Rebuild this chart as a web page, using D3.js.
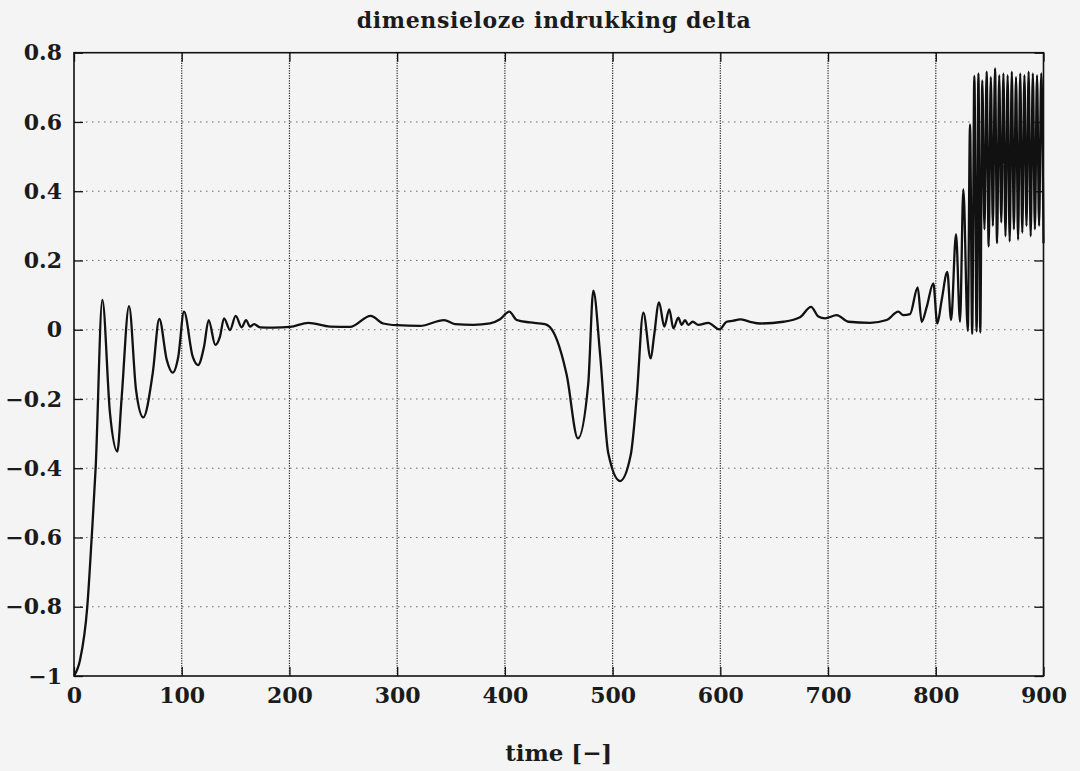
<!DOCTYPE html>
<html>
<head>
<meta charset="utf-8">
<script src="https://cdn.jsdelivr.net/npm/d3@7"></script>
<style>
  body { margin: 0; background: #f4f4f4; }
  svg { display: block; }
  text { font-family: "DejaVu Serif", serif; font-weight: bold; fill: #1b1b1b; }
</style>
</head>
<body>
<svg id="chart" width="1080" height="771"></svg>
<script>
// plot texts
const titleText = 'dimensieloze indrukking delta';
const xLabelText = 'time [\u2212]';

// axis ticks
const xTicks = [0, 100, 200, 300, 400, 500, 600, 700, 800, 900];
const yTicks = [-1, -0.8, -0.6, -0.4, -0.2, 0, 0.2, 0.4, 0.6, 0.8];

// time values
const timeValues = [
  0, 5.6, 12.3, 16.4, 20.1, 26.3, 33.4, 40.2, 44.3, 51.1, 57.6, 64.3, 73.1, 79.2, 86.1, 91.6,
  96.8, 102.1, 110.2, 115.1, 120.7, 125, 131.2, 135.5, 139.3, 144.8, 150.1, 155.7, 159.7, 163.4,
  167.1, 172.7, 185, 200.5, 217.5, 237.7, 256.2, 275.4, 287.1, 299.6, 321.2, 343.5, 353.7, 370.7,
  386.2, 395.5, 404.1, 411, 423.3, 437.2, 445.6, 457.4, 467.8, 477.4, 482.1, 488.3, 496, 506.9,
  516.8, 522.4, 528.5, 535.4, 538.4, 543.1, 548, 552.6, 556.4, 561, 564.1, 567.2, 570.3, 574.4,
  579.6, 588.8, 599.1, 605.9, 612.1, 618.3, 627.6, 636.8, 658.5, 674, 684.2, 691, 697.2, 708,
  718.8, 739, 754.4, 765.2, 769.9, 776.1, 783.2, 786.9, 791.6, 797.7, 801.4, 805.5, 810.7, 814.2,
  818.8, 822.5, 825.6, 829.7, 831.8, 833.8, 835.8, 837.9, 839.6, 841.3, 843.2, 845.2, 847.2,
  849.1, 851.1, 853.0, 855.0, 856.9, 858.9, 860.8, 862.8, 864.7, 866.7, 868.6, 870.6, 872.5,
  874.5, 876.4, 878.4, 880.3, 882.3, 884.2, 886.2, 888.1, 890.1, 892.0, 894.0, 895.9, 897.9, 900
];

// dimensionless indentation delta at each time value
const deltaValues = [
  -1, -0.954, -0.801, -0.601, -0.399, 0.086, -0.241, -0.352, -0.193, 0.068, -0.174, -0.253, -0.125, 0.031, -0.087, -0.124,
  -0.078, 0.052, -0.078, -0.102, -0.049, 0.028, -0.044, -0.02, 0.033, -0.001, 0.04, 0.007, 0.028, 0.009,
  0.016, 0.007, 0.006, 0.008, 0.02, 0.009, 0.008, 0.04, 0.018, 0.013, 0.011, 0.028, 0.016, 0.014,
  0.018, 0.03, 0.052, 0.028, 0.021, 0.016, -0.01, -0.131, -0.314, -0.155, 0.113, -0.068, -0.357, -0.437,
  -0.362, -0.193, 0.049, -0.083, -0.02, 0.079, 0.009, 0.059, 0.004, 0.035, 0.014, 0.028, 0.014, 0.023,
  0.014, 0.02, 0.001, 0.023, 0.026, 0.03, 0.023, 0.018, 0.023, 0.036, 0.066, 0.038, 0.033, 0.042,
  0.023, 0.02, 0.028, 0.052, 0.042, 0.045, 0.122, 0.023, 0.066, 0.134, 0.018, 0.086, 0.167, 0.028,
  0.276, 0.023, 0.405, -0.003, 0.593, -0.012, 0.733, -0.005, 0.74, -0.008, 0.72, 0.29, 0.745,
  0.24, 0.73, 0.30, 0.755, 0.25, 0.735, 0.31, 0.74, 0.27, 0.735, 0.255, 0.745, 0.29,
  0.73, 0.26, 0.74, 0.28, 0.735, 0.30, 0.745, 0.27, 0.74, 0.29, 0.735, 0.30, 0.74, 0.25
];

const series = timeValues.map((t, i) => ({ t: t, v: deltaValues[i] }));

const svg = d3.select('#chart');
const margin = { left: 74, right: 1080 - 1043.5, top: 52.7, bottom: 771 - 676 };
const width = 1080 - margin.left - margin.right;
const height = 771 - margin.top - margin.bottom;

const x = d3.scaleLinear().domain([0, 900]).range([0, width]);
const y = d3.scaleLinear().domain([-1, 0.8]).range([height, 0]);

const minus = s => s.replace('-', '\u2212');
const fmtY = d => minus(Number.isInteger(d) ? String(d) : d.toFixed(1));

svg.append('rect').attr('width', 1080).attr('height', 771).attr('fill', '#f4f4f4');

const g = svg.append('g').attr('transform', `translate(${margin.left},${margin.top})`);

//网格线：竖线较深，横线较淡
g.append('g')
  .selectAll('line')
  .data(xTicks.slice(1, -1))
  .join('line')
  .attr('x1', d => x(d)).attr('x2', d => x(d))
  .attr('y1', 0).attr('y2', height)
  .attr('stroke', '#2a2a2a')
  .attr('stroke-width', 1.2)
  .attr('stroke-dasharray', '1.2,1.3');

g.append('g')
  .selectAll('line')
  .data(yTicks.slice(1, -1))
  .join('line')
  .attr('x1', 0).attr('x2', width)
  .attr('y1', d => y(d)).attr('y2', d => y(d))
  .attr('stroke', '#6a6a6a')
  .attr('stroke-width', 1)
  .attr('stroke-dasharray', '1.5,4.5');

//曲线
const line = d3.line().curve(d3.curveMonotoneX).x(d => x(d.t)).y(d => y(d.v));
g.append('path')
  .datum(series)
  .attr('d', line)
  .attr('fill', 'none')
  .attr('stroke', '#111')
  .attr('stroke-width', 2.3)
  .attr('stroke-linejoin', 'round');

//坐标轴：刻度朝内
const tickLen = 9;
const axisBottom = d3.axisBottom(x).tickValues(xTicks).tickSize(-tickLen).tickPadding(11).tickFormat(d3.format('d'));
const axisTop = d3.axisTop(x).tickValues(xTicks).tickSize(-tickLen).tickFormat('');
const axisLeft = d3.axisLeft(y).tickValues(yTicks).tickSize(-tickLen).tickPadding(12).tickFormat(fmtY);
const axisRight = d3.axisRight(y).tickValues(yTicks).tickSize(-tickLen).tickFormat('');

const styleAxis = sel => {
  sel.select('.domain').remove();
  sel.selectAll('.tick line').attr('stroke', '#111').attr('stroke-width', 1.3);
  sel.selectAll('.tick text')
    .attr('fill', '#1b1b1b')
    .style('font-family', '"DejaVu Serif", serif')
    .style('font-weight', 'bold')
    .style('font-size', '22px');
};

g.append('g').attr('transform', `translate(0,${height})`).call(axisBottom).call(styleAxis);
g.append('g').call(axisTop).call(styleAxis);
g.append('g').call(axisLeft).call(styleAxis);
g.append('g').attr('transform', `translate(${width},0)`).call(axisRight).call(styleAxis);

//外框
g.append('rect')
  .attr('width', width).attr('height', height)
  .attr('fill', 'none')
  .attr('stroke', '#111')
  .attr('stroke-width', 1.6);

//标题与坐标轴标签
svg.append('text')
  .attr('x', margin.left + width / 2 - 5)
  .attr('y', 28.3)
  .attr('text-anchor', 'middle')
  .attr('textLength', 394)
  .attr('lengthAdjust', 'spacing')
  .style('font-size', '22px')
  .text(titleText);

svg.append('text')
  .attr('x', margin.left + width / 2)
  .attr('y', 760.7)
  .attr('text-anchor', 'middle')
  .attr('textLength', 107)
  .attr('lengthAdjust', 'spacing')
  .style('font-size', '23px')
  .text(xLabelText);
</script>
</body>
</html>
